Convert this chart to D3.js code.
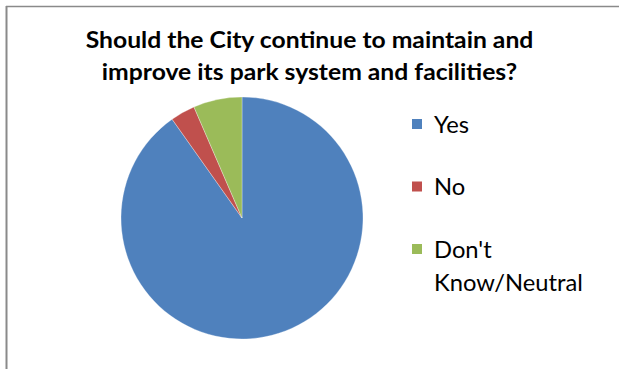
<!DOCTYPE html>
<html>
<head>
<meta charset="utf-8">
<script src="https://cdn.jsdelivr.net/npm/d3@7"></script>
<style>
  html, body { margin: 0; padding: 0; background: #fff; }
  svg { display: block; }
</style>
</head>
<body>
<svg id="chart" width="619" height="369"></svg>
<script>
const titleLines = ["Should the City continue to maintain and", "improve its park system and facilities?"];
const categories = ["Yes", "No", "Don't Know/Neutral"];
const legendLines = [["Yes"], ["No"], ["Don't", "Know/Neutral"]];
const values = [90.2, 3.3, 6.5];
const colors = ["#4F81BD", "#C0504D", "#9BBB59"];

const svg = d3.select("#chart");
const W = 619, H = 369;
svg.append("rect").attr("width", W).attr("height", H).attr("fill", "#fff");

// frame (left and top edges visible)
svg.append("line").attr("x1", 6).attr("x2", W).attr("y1", 6.5).attr("y2", 6.5)
  .attr("stroke", "#8a8a8a").attr("stroke-width", 1.5);
svg.append("line").attr("x1", 6.5).attr("x2", 6.5).attr("y1", 6).attr("y2", H)
  .attr("stroke", "#8a8a8a").attr("stroke-width", 2);

const font = "Lato, 'Open Sans', sans-serif";

// title
const tg = svg.append("g");
const t1 = tg.append("text").attr("x", 309.5).attr("y", 48).attr("text-anchor", "middle")
  .attr("font-family", font).attr("font-weight", "bold").attr("font-size", 23)
  .attr("fill", "#000").text(titleLines[0]);
const tsx = 448 / t1.node().getComputedTextLength();
tg.append("text").attr("x", 309.5).attr("y", 80).attr("text-anchor", "middle")
  .attr("font-family", font).attr("font-weight", "bold").attr("font-size", 23)
  .attr("fill", "#000").text(titleLines[1]);
tg.selectAll("text").attr("transform", `translate(309.5,0) scale(${tsx},1) translate(-309.5,0)`);

// pie
const cx = 242, cy = 218, r = 121;
const pie = d3.pie().sort(null).value(d => d)(values);
const arc = d3.arc().innerRadius(0).outerRadius(r);
svg.append("g").attr("transform", `translate(${cx},${cy})`)
  .selectAll("path").data(pie).join("path")
  .attr("d", arc)
  .attr("fill", (d, i) => colors[i])
  .attr("stroke", "#ffffff").attr("stroke-width", 0.5).attr("stroke-opacity", 0.6);

// legend
const legY = d3.scalePoint().domain(categories).range([133, 258]);
const lg = svg.append("g");
const lt = lg.append("g");
let refNode = null;
categories.forEach((c, i) => {
  const y = legY(c);
  lg.append("rect").attr("x", 412).attr("y", y - 14).attr("width", 10).attr("height", 10)
    .attr("fill", colors[i]);
  legendLines[i].forEach((line, j) => {
    const t = lt.append("text").attr("x", 434).attr("y", y + j * 33.5)
      .attr("font-family", font).attr("font-size", 23.5)
      .attr("fill", "#000").text(line);
    if (line === "Know/Neutral") refNode = t.node();
  });
});
const lsx = 149 / refNode.getComputedTextLength();
lt.attr("transform", `translate(434,0) scale(${lsx},1) translate(-434,0)`);
</script>
</body>
</html>
